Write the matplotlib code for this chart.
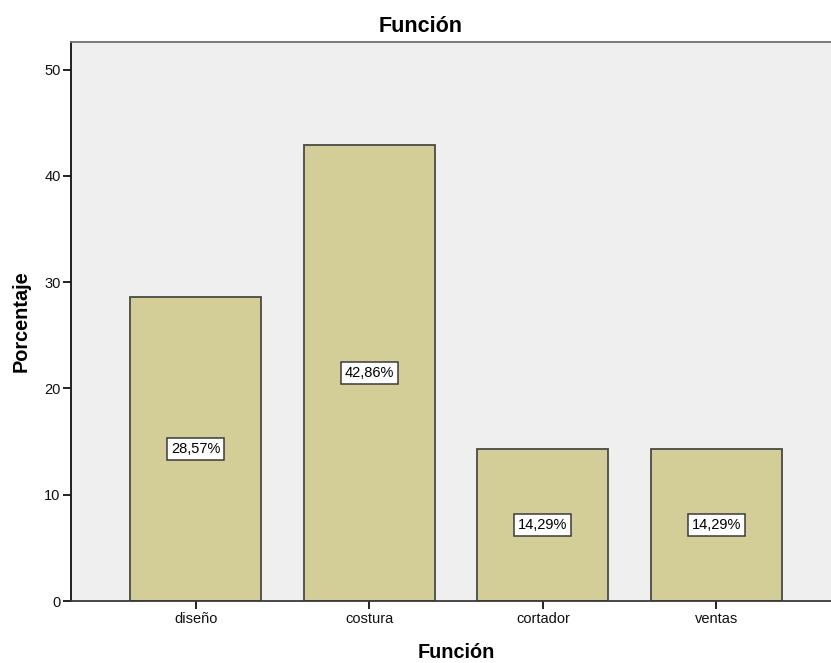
import matplotlib
matplotlib.use("Agg")
import matplotlib.pyplot as plt

plt.rcParams['font.family'] = ['Liberation Sans', 'DejaVu Sans']

categorias = ['diseño', 'costura', 'cortador', 'ventas']
porcentajes = [28.57, 42.86, 14.29, 14.29]
etiquetas = ['28,57%', '42,86%', '14,29%', '14,29%']

fig = plt.figure(figsize=(8.31, 6.63), dpi=100)
ax = fig.add_axes([0.0854, 0.0935, 0.9146, 0.8432])
ax.set_facecolor('#EFEFEF')

x = range(len(categorias))
ax.bar(x, porcentajes, width=0.755, color='#D3CE97',
       edgecolor='#4A4A44', linewidth=1.3, zorder=2)

# etiquetas de porcentaje en el centro de cada barra
for xi, v, txt in zip(x, porcentajes, etiquetas):
    ax.text(xi, v / 2, txt, ha='center', va='center', fontsize=10.5, zorder=3,
            bbox=dict(boxstyle='square,pad=0.26', facecolor='white',
                      edgecolor='#3A3A3A', linewidth=1.1))

ax.set_xlim(-0.72, 3.66)
ax.set_ylim(0, 52.6)
ax.set_yticks([0, 10, 20, 30, 40, 50])
ax.set_xticks(list(x))
ax.set_xticklabels(categorias)
ax.tick_params(axis='y', length=6, width=1.3, labelsize=10.5, pad=1.5, colors='#111111')
ax.tick_params(axis='x', length=6, width=1.3, labelsize=10.5, pad=2, colors='#111111')

ax.spines['right'].set_visible(False)
ax.spines['top'].set_color('#707070')
ax.spines['left'].set_color('#111111')
ax.spines['bottom'].set_color('#3A3A3A')
for s in ['left', 'bottom', 'top']:
    ax.spines[s].set_linewidth(1.3)

ax.set_title('Función', fontsize=15.5, fontweight='bold', pad=7, x=0.46)
ax.set_xlabel('Función', fontsize=14.3, fontweight='bold')
ax.set_ylabel('Porcentaje', fontsize=14.3, fontweight='bold')
ax.xaxis.set_label_coords(0.507, -0.075)
ax.yaxis.set_label_coords(-0.0526, 0.5)

fig.savefig('out.png', dpi=100)
